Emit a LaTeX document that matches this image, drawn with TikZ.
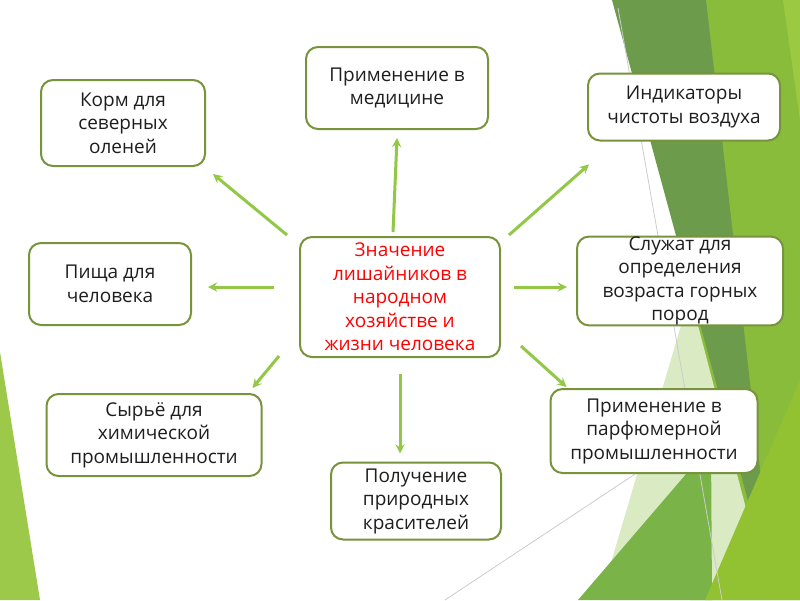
\documentclass[tikz,border=0pt]{standalone}
\usepackage{fontspec}
\setmainfont{Open Sans}
\usepackage{tikz}
\usetikzlibrary{arrows,calc}

\definecolor{boxline}{RGB}{119,147,60}
\definecolor{arrowgreen}{RGB}{146,200,70}
\definecolor{textdark}{RGB}{30,30,30}
\definecolor{bgdark}{RGB}{107,155,75}
\definecolor{bgbright}{RGB}{138,188,60}
\definecolor{bgtop}{RGB}{156,201,66}
\definecolor{bgmid}{RGB}{122,180,72}
\definecolor{bgpale}{RGB}{218,234,194}
\definecolor{bgyellow}{RGB}{146,194,50}
\definecolor{bgleft}{RGB}{157,201,74}

\begin{document}
\begin{tikzpicture}[
    x=1pt, y=-1pt,
    box/.style={rectangle, rounded corners=12pt, draw=boxline, line width=2pt, fill=white, align=center, inner xsep=3pt, inner ysep=0pt, text=textdark, font=\fontsize{19}{23.5}\selectfont},
    arrow/.style={->, >=stealth, line width=3pt, draw=arrowgreen},
]
    % background
    \fill[white] (0,0) rectangle (800,600);
    \useasboundingbox (0,0) rectangle (800,600);
    \fill[bgbright] (700,0) -- (800,0) -- (800,600) -- (690,600) -- cycle;
    \fill[bgtop] (783,0) -- (800,0) -- (800,120) -- cycle;
    \fill[bgpale] (690,295) -- (600,600) -- (770,600) -- cycle;
    \fill[bgdark] (612,0) -- (706,0) -- (775,600) -- cycle;
    \fill[bgmid] (578,600) -- (711,445) -- (712,600) -- cycle;
    \fill[bgyellow] (705,600) -- (800,380) -- (800,600) -- cycle;
    \fill[bgleft] (0,352) -- (40,600) -- (0,600) -- cycle;
    \draw[black!20, line width=0.8pt] (618,8) -- (722,600);
    \draw[black!20, line width=0.8pt] (445,600) -- (700,431);

    % boxes
    \node[box, minimum width=164pt, minimum height=86pt] (korm) at (123,123) {Корм для\\северных\\оленей};
    \node[box, minimum width=182pt, minimum height=82pt] (medic) at (397,88) {Применение в\\медицине};
    \node[box, minimum width=192pt, minimum height=67pt] (indik) at (684,107) {Индикаторы\\чистоты воздуха};
    \node[box, minimum width=162pt, minimum height=82pt] (pishcha) at (110,284) {Пища для\\человека};
    \node[box, minimum width=200pt, minimum height=120pt, text=red] (core) at (400,297) {Значение\\лишайников в\\народном\\хозяйстве и\\жизни человека};
    \node[box, minimum width=206pt, minimum height=88pt] (vozrast) at (680,281) {Служат для\\определения\\возраста горных\\пород};
    \node[box, minimum width=215pt, minimum height=82pt] (syrye) at (154,435) {Сырьё для\\химической\\промышленности};
    \node[box, minimum width=170pt, minimum height=77pt] (krasit) at (416,501) {Получение\\природных\\красителей};
    \node[box, minimum width=207pt, minimum height=84pt] (parfum) at (654,431) {Применение в\\парфюмерной\\промышленности};

    % arrows
    \draw[arrow] ($(core.north west)+(-12,-1)$) -- ($(korm.south east)+(7,7)$);
    \draw[arrow] ($(core.north)+(-7,-4)$) -- ($(medic.south)+(0,8)$);
    \draw[arrow] ($(core.north east)+(8,-1)$) -- ($(indik.south west)+(2,23)$);
    \draw[arrow] ($(core.west)+(-25,-10)$) -- ($(pishcha.east)+(16,3)$);
    \draw[arrow] ($(core.east)+(13,-10)$) -- ($(vozrast.west)+(-9,6)$);
    \draw[arrow] ($(core.south west)+(-20,-2)$) -- ($(syrye.north east)+(-10,-5)$);
    \draw[arrow] ($(core.south)+(0,16)$) -- ($(krasit.north)+(-16,-8)$);
    \draw[arrow] ($(core.south east)+(20,-12)$) -- ($(parfum.north west)+(17,-1)$);
\end{tikzpicture}
\end{document}
